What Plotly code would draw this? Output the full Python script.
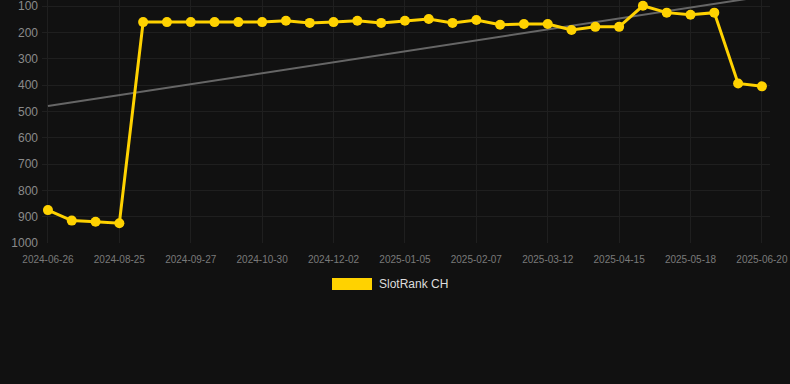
import plotly.graph_objects as go

dates = ["2024-06-26", "2024-07-16", "2024-08-05", "2024-08-25", "2024-09-05", "2024-09-16",
         "2024-09-27", "2024-10-08", "2024-10-19", "2024-10-30", "2024-11-10", "2024-11-21",
         "2024-12-02", "2024-12-13", "2024-12-24", "2025-01-05", "2025-01-16", "2025-01-27",
         "2025-02-07", "2025-02-18", "2025-03-01", "2025-03-12", "2025-03-23", "2025-04-03",
         "2025-04-15", "2025-04-26", "2025-05-07", "2025-05-18", "2025-05-29", "2025-06-09",
         "2025-06-20"]
ranks = [875, 915, 919, 925, 161, 161, 161, 161, 161, 161, 156, 164, 161, 156, 164, 156,
         149, 164, 153, 171, 168, 168, 191, 179, 179, 99, 125, 133, 125, 394, 405]
trend_values = [480, 64]
tick_dates = dates[::3]
y_ticks = [100, 200, 300, 400, 500, 600, 700, 800, 900, 1000]
series_name = "SlotRank CH"

PL, PW, PB, PH = 42, 728, 141, 243  # plot-area geometry (left, width, bottom margin, height)

fig = go.Figure()
fig.add_trace(go.Scatter(x=[dates[0], dates[-1]], y=trend_values, mode="lines",
                         line=dict(color="#666666", width=2), showlegend=False, hoverinfo="skip"))
fig.add_trace(go.Scatter(x=dates, y=ranks, mode="lines+markers", name=series_name,
                         line=dict(color="#FFD200", width=3),
                         marker=dict(color="#FFD200", size=10), showlegend=False))

fig.update_layout(
    width=790, height=384,
    paper_bgcolor="#111111", plot_bgcolor="#111111",
    margin=dict(l=PL, r=790 - PL - PW, t=0, b=PB),
    xaxis=dict(type="category", categoryorder="array", categoryarray=dates,
               range=[-0.25, 30.34], tickmode="array", tickvals=tick_dates, ticktext=tick_dates,
               showgrid=True, gridcolor="#1f1f1f", gridwidth=1, zeroline=False, showline=False,
               tickfont=dict(family="Arial, Liberation Sans, sans-serif", size=10, color="#7a7a7a"),
               ticks="", ticklabelstandoff=9, ticklabeloverflow="allow"),
    yaxis=dict(range=[1000, 77], tickmode="array", tickvals=y_ticks,
               showgrid=True, gridcolor="#1f1f1f", gridwidth=1, zeroline=False, showline=False,
               tickfont=dict(family="Arial, Liberation Sans, sans-serif", size=12, color="#8a8a8a"),
               ticks="", ticklabelstandoff=3, ticklabeloverflow="allow"),
    showlegend=False,
    shapes=[dict(type="rect", xref="paper", yref="paper",
                 x0=(332 - PL) / PW, x1=(372 - PL) / PW,
                 y0=(PH - 290) / PH, y1=(PH - 278) / PH,
                 fillcolor="#FFD200", line=dict(width=0))],
    annotations=[dict(text=series_name, xref="paper", yref="paper",
                      x=(377 - PL) / PW, y=(PH - 284) / PH, xanchor="left", yanchor="middle",
                      showarrow=False,
                      font=dict(family="Arial, Liberation Sans, sans-serif", size=12, color="#dddddd"))],
)

fig.write_html("out.html", config={"displayModeBar": False},
               post_script="document.body.style.margin='0';document.body.style.background='#111111';")
